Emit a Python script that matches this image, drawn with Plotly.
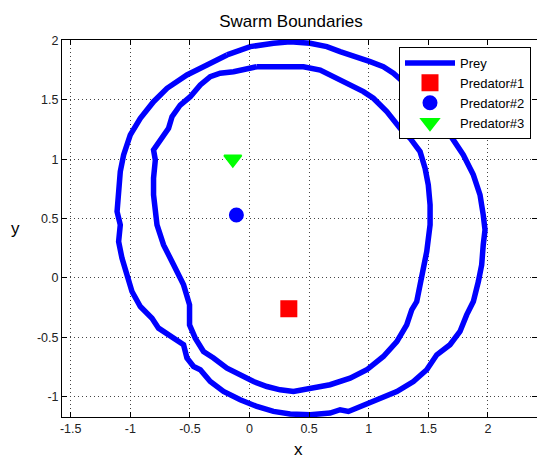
import plotly.graph_objects as go

# Outer prey boundary (data units)
outer_x = [-0.189, 0.006, 0.201, 0.341, 0.509, 0.649, 0.760, 0.900, 1.012, 1.123, 1.207, 1.347, 1.473,
           1.582, 1.682, 1.794, 1.878, 1.934, 1.961, 1.976, 1.961, 1.948, 1.920, 1.878, 1.822, 1.766,
           1.682, 1.571, 1.487, 1.375, 1.236, 1.096, 0.956, 0.830, 0.760, 0.676, 0.509, 0.341, 0.201,
           0.062, -0.078, -0.218, -0.329, -0.413, -0.469, -0.525, -0.553, -0.665, -0.763, -0.818,
           -0.916, -0.986, -1.028, -1.070, -1.098, -1.084, -1.111, -1.098, -1.084, -1.056, -1.000,
           -0.916, -0.805, -0.692, -0.525, -0.357, -0.189]
outer_y = [1.879, 1.949, 1.977, 1.991, 1.977, 1.949, 1.907, 1.864, 1.822, 1.780, 1.725, 1.601, 1.474,
           1.348, 1.205, 1.036, 0.868, 0.699, 0.531, 0.404, 0.278, 0.110, -0.031, -0.200, -0.312, -0.452,
           -0.564, -0.649, -0.775, -0.874, -0.958, -1.013, -1.070, -1.126, -1.112, -1.140, -1.154, -1.148,
           -1.126, -1.084, -1.028, -0.958, -0.874, -0.775, -0.747, -0.676, -0.564, -0.495, -0.424, -0.340,
           -0.242, -0.115, 0.025, 0.166, 0.306, 0.447, 0.559, 0.727, 0.896, 1.036, 1.205, 1.345, 1.485,
           1.598, 1.710, 1.794, 1.879]

# Inner prey boundary (data units)
inner_x = [0.062, 0.257, 0.341, 0.453, 0.593, 0.704, 0.816, 0.956, 1.039, 1.152, 1.263, 1.347, 1.431,
           1.473, 1.500, 1.515, 1.515, 1.500, 1.487, 1.459, 1.431, 1.403, 1.361, 1.319, 1.236, 1.123,
           0.984, 0.844, 0.676, 0.509, 0.369, 0.257, 0.146, 0.034, -0.078, -0.189, -0.302, -0.386,
           -0.455, -0.503, -0.503, -0.553, -0.637, -0.721, -0.776, -0.790, -0.805, -0.805, -0.790,
           -0.805, -0.734, -0.679, -0.650, -0.581, -0.497, -0.413, -0.329, -0.246, -0.134, -0.022, 0.062]
inner_y = [1.780, 1.780, 1.789, 1.780, 1.752, 1.696, 1.640, 1.570, 1.514, 1.401, 1.261, 1.177, 1.064,
           0.924, 0.783, 0.615, 0.447, 0.320, 0.222, 0.082, -0.059, -0.200, -0.270, -0.396, -0.537,
           -0.663, -0.775, -0.845, -0.901, -0.929, -0.958, -0.944, -0.916, -0.874, -0.817, -0.761,
           -0.676, -0.621, -0.508, -0.396, -0.227, -0.059, 0.110, 0.278, 0.447, 0.559, 0.699, 0.840,
           0.994, 1.078, 1.177, 1.261, 1.359, 1.457, 1.527, 1.626, 1.696, 1.725, 1.738, 1.767, 1.780]

pred_names = ["Predator#1", "Predator#2", "Predator#3"]
pred_x = [0.33, -0.11, -0.14]
pred_y = [-0.26, 0.53, 1.00]
pred_colors = ["#FF0000", "#0000FF", "#00FF00"]
pred_symbols = ["square", "circle", "triangle-down"]
pred_sizes = [15, 13, 15]

x_ticks = [-1.5, -1, -0.5, 0, 0.5, 1, 1.5, 2]
y_ticks = [-1, -0.5, 0, 0.5, 1, 1.5, 2]

fig = go.Figure()
fig.add_trace(go.Scatter(x=outer_x, y=outer_y, mode="lines", name="Prey",
                         line=dict(color="#0000FF", width=5.5), legendgroup="prey"))
fig.add_trace(go.Scatter(x=inner_x, y=inner_y, mode="lines", name="Prey", showlegend=False,
                         line=dict(color="#0000FF", width=5.5), legendgroup="prey"))
for n, px, py, c, s, sz in zip(pred_names, pred_x, pred_y, pred_colors, pred_symbols, pred_sizes):
    fig.add_trace(go.Scatter(x=[px], y=[py], mode="markers", name=n,
                             marker=dict(color=c, symbol=s, size=sz, line=dict(color=c, width=2))))

axis_common = dict(
    showline=True, linecolor="black", linewidth=1, mirror="ticks",
    ticks="inside", ticklen=5, tickcolor="black",
    showgrid=True, gridcolor="#444444", griddash="1px,3px", gridwidth=1,
    zeroline=False, tickfont=dict(family="Liberation Sans, Arial", size=12.5, color="#222222"),
)

fig.update_layout(
    width=537, height=459,
    margin=dict(l=62, r=0, t=40, b=42),
    paper_bgcolor="white", plot_bgcolor="white",
    font=dict(family="Liberation Sans, Arial", color="black"),
    title=dict(text="Swarm Boundaries", x=291 / 537, xanchor="center", y=1 - 21 / 459, yanchor="middle",
               font=dict(size=17, color="black")),
    xaxis=dict(range=[-1.573, 2.412], tickvals=x_ticks, ticktext=[f"{v:g}" for v in x_ticks], **axis_common),
    yaxis=dict(range=[-1.173, 2.005], tickvals=y_ticks, ticktext=[f"{v:g}" for v in y_ticks], **axis_common),
    legend=dict(x=(399 - 62) / 475, y=(417 - 47) / 377, xanchor="left", yanchor="top", bgcolor="white",
                bordercolor="black", borderwidth=1, font=dict(size=13, color="black"),
                tracegroupgap=0, itemwidth=50),
    showlegend=True,
    annotations=[
        dict(text="x", xref="paper", yref="paper", x=(298 - 62) / 475, y=-(450 - 417) / 377,
             showarrow=False, xanchor="center", yanchor="middle", font=dict(size=17, color="black")),
        dict(text="y", xref="paper", yref="paper", x=-(62 - 15) / 475, y=(417 - 228) / 377,
             showarrow=False, xanchor="center", yanchor="middle", font=dict(size=17, color="black")),
    ],
)

fig.write_html("out.html", config={"displayModeBar": False})

# remove default page margin so the figure sits at the window's top-left corner
with open("out.html", "r", encoding="utf-8") as f:
    html = f.read()
html = html.replace("<head>", "<head><style>html,body{margin:0;padding:0;overflow:hidden}</style>", 1)
with open("out.html", "w", encoding="utf-8") as f:
    f.write(html)
